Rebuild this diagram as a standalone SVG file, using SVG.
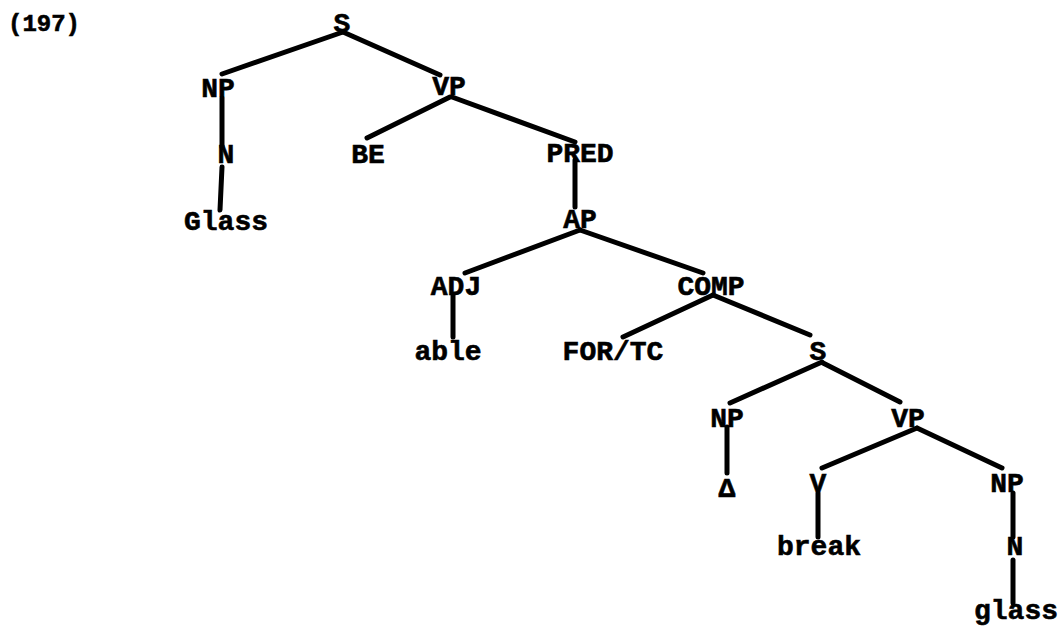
<svg xmlns="http://www.w3.org/2000/svg" width="1061" height="627" viewBox="0 0 1061 627">
<style>
text{font-family:"Liberation Mono","Courier New",monospace;font-weight:bold;font-size:28px;fill:#000;stroke:#000;stroke-width:0.6;text-anchor:middle}
.e{stroke:#000;stroke-width:5;stroke-linecap:round;fill:none}
</style>
<rect width="1061" height="627" fill="#fff"/>
<text x="8" y="31" style="text-anchor:start;font-size:24px">(197)</text>
<g id="edges">
<line class="e" x1="343" y1="32" x2="222" y2="74"/>
<line class="e" x1="343" y1="32" x2="440" y2="75"/>
<line class="e" x1="222" y1="98" x2="222" y2="147"/>
<line class="e" x1="222" y1="167" x2="220" y2="210"/>
<line class="e" x1="450" y1="97" x2="367" y2="138"/>
<line class="e" x1="452" y1="97" x2="575" y2="142"/>
<line class="e" x1="575" y1="160" x2="575" y2="207"/>
<line class="e" x1="580" y1="230" x2="465" y2="273"/>
<line class="e" x1="580" y1="230" x2="703" y2="273"/>
<line class="e" x1="453" y1="295" x2="453" y2="337"/>
<line class="e" x1="713" y1="295" x2="623" y2="337"/>
<line class="e" x1="713" y1="295" x2="810" y2="335"/>
<line class="e" x1="822" y1="362" x2="730" y2="403"/>
<line class="e" x1="823" y1="363" x2="900" y2="402"/>
<line class="e" x1="727" y1="427" x2="727" y2="473"/>
<line class="e" x1="917" y1="428" x2="822" y2="468"/>
<line class="e" x1="917" y1="428" x2="1002" y2="468"/>
<line class="e" x1="818" y1="493" x2="818" y2="537"/>
<line class="e" x1="1013" y1="493" x2="1013" y2="537"/>
<line class="e" x1="1013" y1="560" x2="1013" y2="603"/>
</g>
<g id="n1"><text x="342" y="32">S</text></g>
<g id="n2"><text x="218" y="97">NP</text></g>
<g id="n3"><text x="449" y="95">VP</text></g>
<g id="n4"><text x="226" y="163">N</text></g>
<g id="n5"><text x="226" y="230">Glass</text></g>
<g id="n6"><text x="368" y="163">BE</text></g>
<g id="n7"><text x="580" y="162">PRED</text></g>
<g id="n8"><text x="580" y="228">AP</text></g>
<g id="n9"><text x="456" y="295">ADJ</text></g>
<g id="n10"><text x="711" y="295">COMP</text></g>
<g id="n11"><text x="448" y="360">able</text></g>
<g id="n12"><text x="613" y="360">FOR/TC</text></g>
<g id="n13"><text x="818" y="360">S</text></g>
<g id="n14"><text x="727" y="427">NP</text></g>
<g id="n15"><text x="908" y="427">VP</text></g>
<g id="n16"><text x="727" y="497">Δ</text></g>
<g id="n17"><text x="818" y="492">V</text></g>
<g id="n18"><text x="1007" y="492">NP</text></g>
<g id="n19"><text x="819" y="555">break</text></g>
<g id="n20"><text x="1015" y="555">N</text></g>
<g id="n21"><text x="1016" y="619">glass</text></g>
</svg>
